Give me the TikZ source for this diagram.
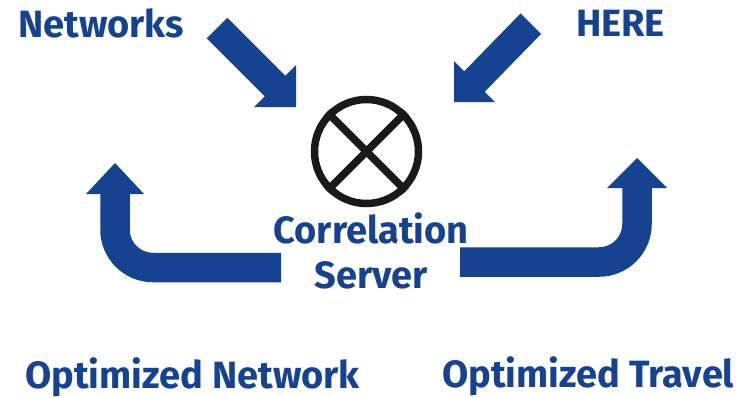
\documentclass[tikz,border=0pt]{standalone}
\usepackage{fontspec}
\setmainfont{Fira Sans}
\definecolor{nblue}{RGB}{21,66,145}
\definecolor{nblack}{RGB}{26,26,26}
\begin{document}
\begin{tikzpicture}[x=1pt,y=-1pt,
  lbl/.style={text=nblue,font=\fontsize{38}{45}\selectfont\bfseries,inner sep=0},
  fat/.style={fill=nblue},
  bentarrow/.style={draw=nblue,line width=29.5pt,rounded corners=38pt},
  xcircle/.style={circle,draw=nblack,line width=7.5pt,minimum size=104pt,inner sep=0}]
\useasboundingbox (0,0) rectangle (748,397);
\fill[white] (0,0) rectangle (748,397);
% labels
\node[lbl,anchor=base west] (net) at (18,37) {Networks};
\node[lbl,anchor=base west] (here) at (576,36) {HERE};
\node[lbl,anchor=base west] (onet) at (25,388) {Optimized Network};
\node[lbl,anchor=base west] (otrv) at (442,387) {Optimized Travel};
\node[lbl,align=center,anchor=base] (srv) at (371,288) {Correlation\\Server};
% correlation symbol
\node[xcircle] (x) at (366.5,151.5) {};
\draw[nblack,line width=7.5pt] (x.45) -- (x.225) (x.135) -- (x.-45);
% incoming arrows
\fill[fat] (227.25,17.75) -- (285.3,75.7) -- (296,65) -- (296,107) -- (254,107) -- (264.7,96.3) -- (206.75,38.25) -- cycle;
\fill[fat] (520.5,13.5) -- (464.25,71.25) -- (454,61) -- (454,102) -- (495,102) -- (484.75,91.75) -- (541,34) -- cycle;
% outgoing bent arrows
\coordinate (l0) at (281,267.5);
\coordinate (l1) at (115,267.5);
\coordinate (l2) at (115,193.5);
\draw[bentarrow] (l0) -- (l1) -- (l2);
\fill[fat] (86,194) -- (115,163) -- (144,194) -- cycle;
\coordinate (r0) at (460,262);
\coordinate (r1) at (637,262);
\coordinate (r2) at (637,187.5);
\draw[bentarrow] (r0) -- (r1) -- (r2);
\fill[fat] (607,188) -- (637,158) -- (667,188) -- cycle;
\end{tikzpicture}
\end{document}
